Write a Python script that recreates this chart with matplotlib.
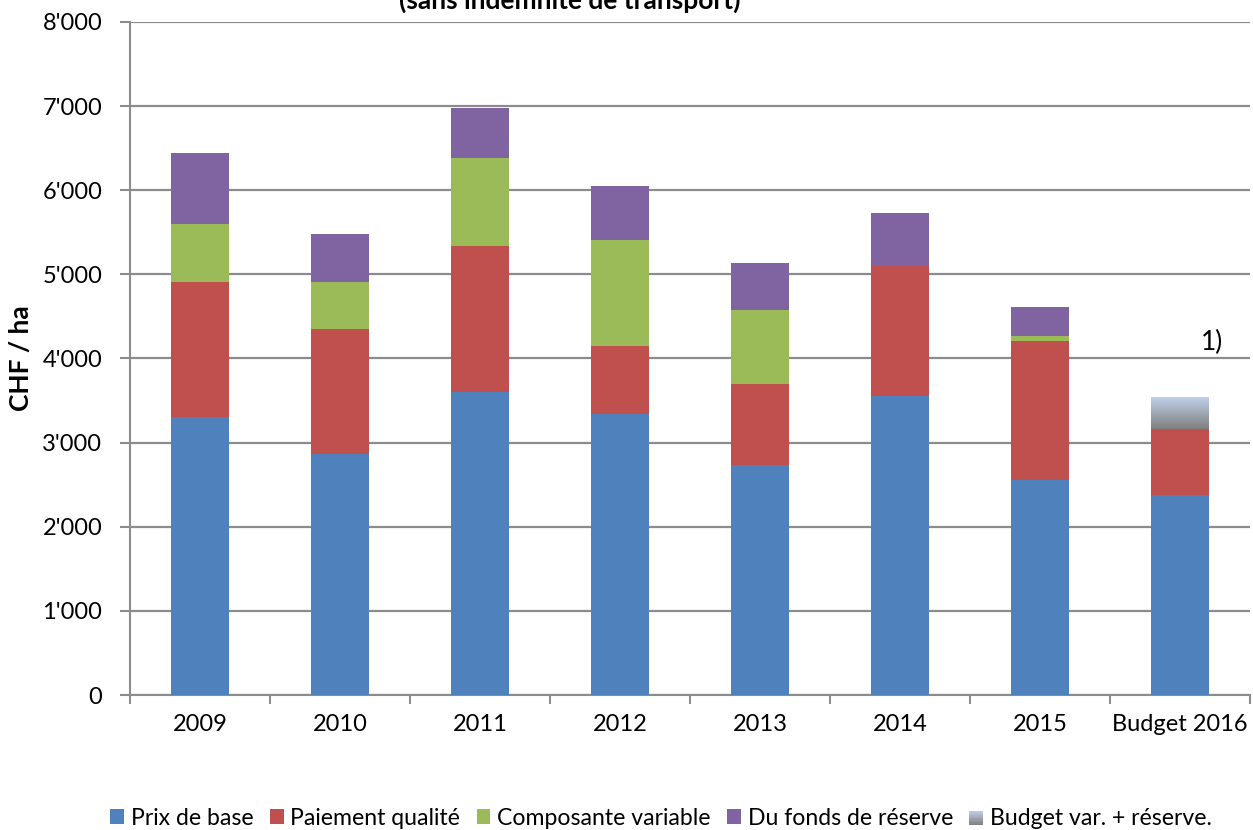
import numpy as np
import matplotlib
matplotlib.use("Agg")
import matplotlib.pyplot as plt
from matplotlib.legend_handler import HandlerBase
from matplotlib.patches import Rectangle
from matplotlib.colors import LinearSegmentedColormap
from matplotlib.ticker import FuncFormatter, FixedLocator

categories = ["2009", "2010", "2011", "2012", "2013", "2014", "2015", "Budget 2016"]
prix_base = [3300, 2865, 3600, 3340, 2735, 3555, 2555, 2375]
paiement_qualite = [1610, 1487, 1736, 810, 963, 1546, 1654, 790]
composante_variable = [690, 559, 1046, 1260, 880, 0, 60, 0]
fonds_reserve = [845, 571, 595, 642, 559, 630, 344, 0]
budget_var_reserve = [0, 0, 0, 0, 0, 0, 0, 380]

series_names = ["Prix de base", "Paiement qualité", "Composante variable",
                "Du fonds de réserve", "Budget var. + réserve."]
colors = ["#4F81BD", "#C0504D", "#9BBB59", "#8064A2"]
grad_top = "#BFD0EA"
grad_bottom = "#7F7F7F"

FONT = "Lato"
fig = plt.figure(figsize=(12.53, 8.3), dpi=100)
ax = fig.add_axes([130 / 1253, 1 - 695 / 830, 1120 / 1253, 673 / 830])

x = np.arange(len(categories))
width = 0.41
bottom = np.zeros(len(categories))
for vals, col, name in zip([prix_base, paiement_qualite, composante_variable, fonds_reserve],
                           colors, series_names[:4]):
    ax.bar(x, vals, width, bottom=bottom, color=col, label=name, zorder=3)
    bottom += np.array(vals)

# gradient bar
cmap = LinearSegmentedColormap.from_list("g", [grad_bottom, grad_top])
bars = ax.bar(x, budget_var_reserve, width, bottom=bottom, color="none", zorder=3)
for b in bars:
    h = b.get_height()
    if h > 0:
        grad = np.linspace(0, 1, 100).reshape(-1, 1)
        ax.imshow(grad, cmap=cmap, aspect="auto", origin="lower",
                  extent=[b.get_x(), b.get_x() + b.get_width(), b.get_y(), b.get_y() + h],
                  zorder=3)

ax.set_xlim(-0.5, len(categories) - 0.5)
ax.set_ylim(0, 8000)
ax.yaxis.set_major_locator(FixedLocator(np.arange(0, 8001, 1000)))
ax.yaxis.set_major_formatter(FuncFormatter(lambda v, p: f"{int(v):,}".replace(",", "'")))
ax.grid(axis="y", color="#8C8C8C", linewidth=1.6, zorder=0)
ax.set_axisbelow(True)

ax.set_xticks(x)
ax.set_xticklabels(categories, fontsize=17, family=FONT)
ax.tick_params(axis="x", length=0, pad=14)
ax.set_xticks(np.arange(-0.5, len(categories)), minor=True)
ax.tick_params(axis="x", which="minor", length=6.5, color="#8C8C8C", width=1.5, direction="out")
ax.tick_params(axis="y", length=7, color="#8C8C8C", width=1.5, labelsize=17, pad=13)
for lab in ax.get_yticklabels():
    lab.set_family(FONT)

for s in ["top", "right"]:
    ax.spines[s].set_visible(False)
for s in ["left", "bottom"]:
    ax.spines[s].set_color("#8C8C8C")
    ax.spines[s].set_linewidth(1.5)

ax.set_ylabel("CHF / ha", fontsize=19, fontweight="bold", family=FONT)
ax.yaxis.set_label_coords(-(130 - 33) / 1120, 0.5)

ax.text((1212 - 130) / 1120, (695 - 342) / 673, "1)", transform=ax.transAxes,
        fontsize=19, family=FONT, ha="center", va="center")

fig.text(0.455, 0.990, "(sans indemnité de transport)", fontsize=19, fontweight="bold",
         family=FONT, ha="center", va="baseline")


class GradHandler(HandlerBase):
    def create_artists(self, legend, orig, xd, yd, w, h, fontsize, trans):
        arts = []
        n = 10
        top = np.array(matplotlib.colors.to_rgb(grad_top))
        bot = np.array(matplotlib.colors.to_rgb(grad_bottom))
        for i in range(n):
            t = (i + 0.5) / n
            c = bot * (1 - t) + top * t
            r = Rectangle((xd, yd + h * i / n), w, h / n, facecolor=c, edgecolor="none",
                          transform=trans)
            arts.append(r)
        return arts


handles, labels = ax.get_legend_handles_labels()
grad_proxy = Rectangle((0, 0), 1, 1)
handles.append(grad_proxy)
labels.append(series_names[4])
leg = fig.legend(handles, labels, loc="center", bbox_to_anchor=(661 / 1253, 1 - 818 / 830),
                 ncol=5, frameon=False, prop={"family": FONT, "size": 16.6},
                 handlelength=0.6, handleheight=0.6, handletextpad=0.3,
                 columnspacing=0.7, handler_map={grad_proxy: GradHandler()})

fig.savefig("out.png", dpi=100)
